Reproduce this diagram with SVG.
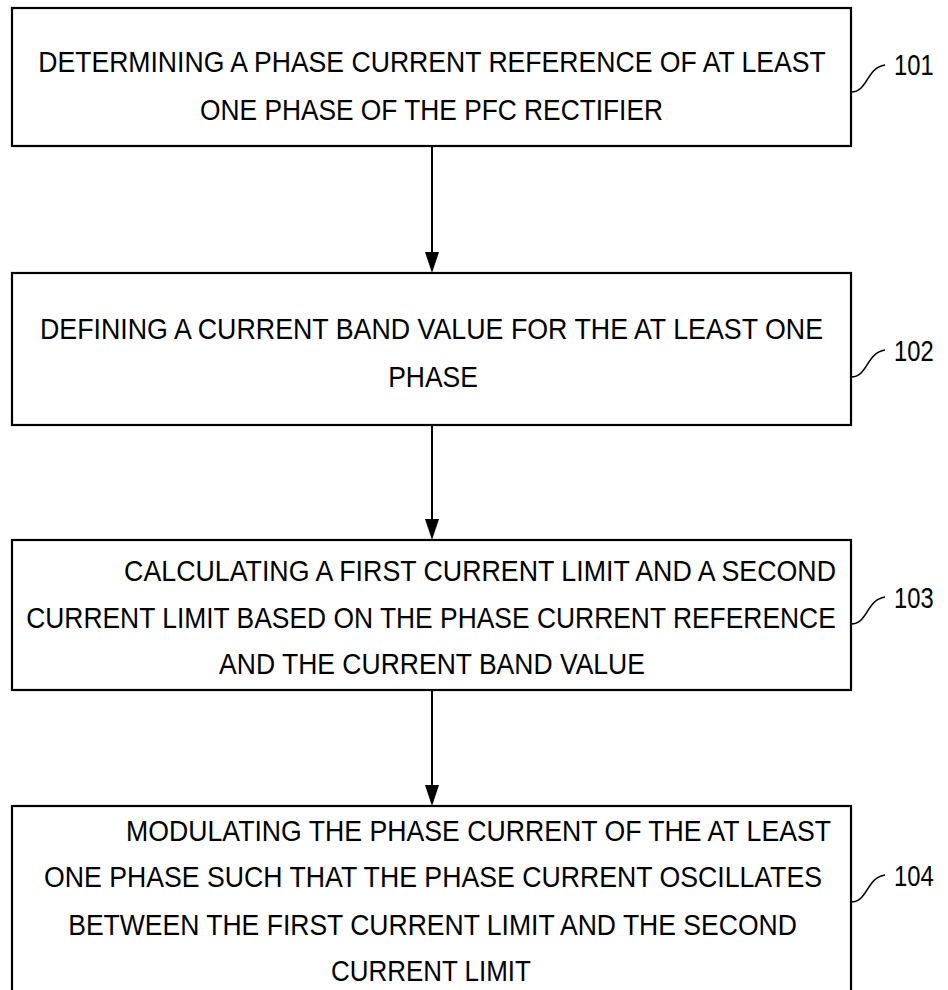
<svg xmlns="http://www.w3.org/2000/svg" width="948" height="990" viewBox="0 0 948 990">
<defs>
<style>
.box{fill:#fff;stroke:#000;stroke-width:2.2}
.t{font-family:"Liberation Sans",Arial,sans-serif;font-size:30px;fill:#000;text-anchor:middle}
.e{text-anchor:end}
.lbl{font-family:"Liberation Sans",Arial,sans-serif;font-size:29px;fill:#000}
.lead{fill:none;stroke:#000;stroke-width:1.6}
.conn{stroke:#000;stroke-width:2}
.ah{fill:#000}
</style>
</defs>
<rect width="948" height="990" fill="#fff"/>
<g id="connectors">
<line class="conn" x1="432" y1="146" x2="432" y2="252"/>
<path class="ah" d="M425,252 L439,252 L432,273 Z"/>
<line class="conn" x1="432" y1="425" x2="432" y2="520"/>
<path class="ah" d="M425,519 L439,519 L432,540 Z"/>
<line class="conn" x1="432" y1="690" x2="432" y2="786"/>
<path class="ah" d="M425,785 L439,785 L432,806 Z"/>
</g>
<g id="node101">
<rect class="box" x="12" y="8" width="839" height="138"/>
<text class="t" transform="translate(432,72) scale(0.88,1)" textLength="895" lengthAdjust="spacingAndGlyphs">DETERMINING A PHASE CURRENT REFERENCE OF AT LEAST</text>
<text class="t" transform="translate(431.5,120) scale(0.88,1)" textLength="526" lengthAdjust="spacingAndGlyphs">ONE PHASE OF THE PFC RECTIFIER</text>
<path class="lead" d="M851,92 C868,92 866,68 885,65"/>
<text class="lbl" transform="translate(894,75) scale(0.82,1)">101</text>
</g>
<g id="node102">
<rect class="box" x="12" y="273" width="839" height="152"/>
<text class="t" transform="translate(431.5,339) scale(0.88,1)" textLength="890" lengthAdjust="spacingAndGlyphs">DEFINING A CURRENT BAND VALUE FOR THE AT LEAST ONE</text>
<text class="t" transform="translate(433,387) scale(0.88,1)" textLength="102" lengthAdjust="spacingAndGlyphs">PHASE</text>
<path class="lead" d="M851,377 C868,377 866,353 885,350"/>
<text class="lbl" transform="translate(894,361) scale(0.82,1)">102</text>
</g>
<g id="node103">
<rect class="box" x="12" y="540" width="839" height="150"/>
<text class="t e" transform="translate(836,581) scale(0.88,1)" textLength="809" lengthAdjust="spacingAndGlyphs">CALCULATING A FIRST CURRENT LIMIT AND A SECOND</text>
<text class="t" transform="translate(431,628) scale(0.88,1)" textLength="920" lengthAdjust="spacingAndGlyphs">CURRENT LIMIT BASED ON THE PHASE CURRENT REFERENCE</text>
<text class="t" transform="translate(432,674) scale(0.88,1)" textLength="484" lengthAdjust="spacingAndGlyphs">AND THE CURRENT BAND VALUE</text>
<path class="lead" d="M851,624 C868,624 866,600 885,597"/>
<text class="lbl" transform="translate(894,608) scale(0.82,1)">103</text>
</g>
<g id="node104">
<rect class="box" x="12" y="806" width="839" height="200"/>
<text class="t e" transform="translate(831,841) scale(0.88,1)" textLength="801" lengthAdjust="spacingAndGlyphs">MODULATING THE PHASE CURRENT OF THE AT LEAST</text>
<text class="t" transform="translate(433,887) scale(0.88,1)" textLength="884" lengthAdjust="spacingAndGlyphs">ONE PHASE SUCH THAT THE PHASE CURRENT OSCILLATES</text>
<text class="t" transform="translate(432.5,935) scale(0.88,1)" textLength="828" lengthAdjust="spacingAndGlyphs">BETWEEN THE FIRST CURRENT LIMIT AND THE SECOND</text>
<text class="t" transform="translate(431,981) scale(0.88,1)" textLength="227" lengthAdjust="spacingAndGlyphs">CURRENT LIMIT</text>
<path class="lead" d="M851,902 C868,902 866,878 885,875"/>
<text class="lbl" transform="translate(894,886) scale(0.82,1)">104</text>
</g>
</svg>
